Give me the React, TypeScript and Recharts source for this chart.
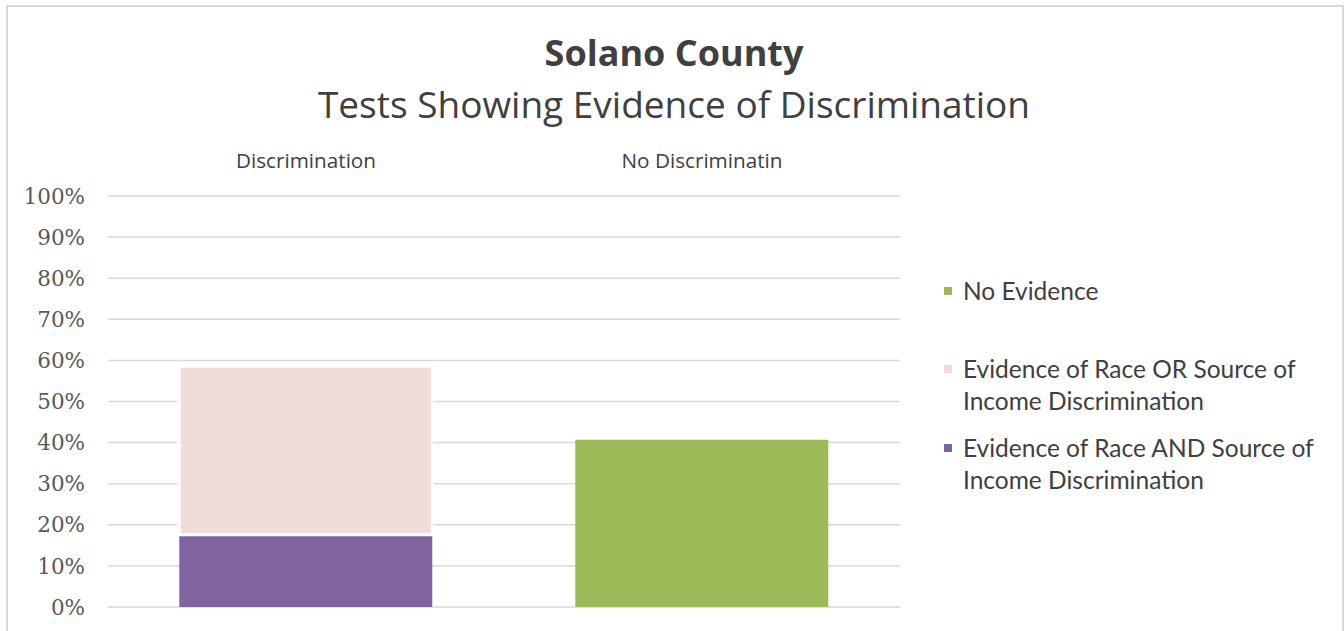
import React from "react";
import { BarChart, Bar, XAxis, YAxis, CartesianGrid, Legend } from "recharts";

const categories = ["Discrimination", "No Discriminatin"];
const raceAndSource = [17.6, 0];
const raceOrSource = [41.0, 0];
const noEvidence = [0, 40.7];
const yTicks = [0, 10, 20, 30, 40, 50, 60, 70, 80, 90, 100];

const seriesNames = {
  none: "No Evidence",
  or: "Evidence of Race OR Source of Income Discrimination",
  and: "Evidence of Race AND Source of Income Discrimination",
};
const colors = { none: "#9bbb59", or: "#f2dcdb", and: "#8064a2" };

const data = categories.map((c, i) => ({
  name: c,
  and: raceAndSource[i],
  or: raceOrSource[i],
  none: noEvidence[i],
}));

const legendOrder = ["none", "or", "and"] as const;
const legendGaps = [0, 46, 15];

function LegendContent() {
  return (
    <div style={{ fontFamily: "Lato, sans-serif", fontSize: 24.5, color: "#404040", lineHeight: "32px" }}>
      {legendOrder.map((k, i) => (
        <div key={k} style={{ display: "flex", alignItems: "flex-start", marginTop: legendGaps[i] }}>
          <div style={{ width: 8, height: 8, background: colors[k], marginTop: 12, marginRight: 11, flex: "none" }} />
          <div style={{ width: 375 }}>{seriesNames[k]}</div>
        </div>
      ))}
    </div>
  );
}

export default function App() {
  return (
    <div style={{ position: "absolute", left: 0, top: 0, width: 1344, height: 631, background: "#fff", overflow: "hidden" }}>
      <div style={{ position: "absolute", left: 6, top: 5, width: 1334, height: 700, borderTop: "2px solid #d9d9d9", borderLeft: "2px solid #d9d9d9", borderRight: "2px solid #d9d9d9" }} />
      <div style={{ position: "absolute", left: 0, width: 1348, top: 31, textAlign: "center", fontFamily: "'Open Sans', sans-serif", fontWeight: 700, fontSize: 36, color: "#404040", lineHeight: "44px" }}>
        Solano County
      </div>
      <div style={{ position: "absolute", left: 0, width: 1348, top: 80, textAlign: "center", fontFamily: "'Open Sans', sans-serif", fontSize: 37, color: "#404040", lineHeight: "48px" }}>
        Tests Showing Evidence of Discrimination
      </div>
      <div style={{ position: "absolute", left: 0, top: 0 }}>
        <BarChart width={1344} height={631} data={data} margin={{ top: 156, right: 444, bottom: 24, left: 8 }} barCategoryGap="18%">
          <CartesianGrid vertical={false} stroke="#d9d9d9" strokeWidth={1.5} />
          <XAxis dataKey="name" orientation="top" height={40} axisLine={false} tickLine={false} tickSize={0} tickMargin={28} interval={0}
            tick={{ fontFamily: "'Open Sans', sans-serif", fontSize: 20.7, fill: "#404040" }} />
          <YAxis domain={[0, 100]} ticks={yTicks} interval={0} width={100} axisLine={false} tickLine={false} tickSize={0} tickMargin={23}
            tickFormatter={(v) => `${v}%`} tick={{ fontFamily: "'DejaVu Serif', serif", fontSize: 21.5, fill: "#595959" }} />
          <Legend layout="vertical" align="center" verticalAlign="middle" wrapperStyle={{ left: 944, top: 275, width: 400 }} content={<LegendContent />} />
          <Bar dataKey="and" name={seriesNames.and} stackId="a" fill={colors.and} isAnimationActive={false} />
          <Bar dataKey="or" name={seriesNames.or} stackId="a" fill={colors.or} stroke="#fff" strokeWidth={3} isAnimationActive={false} />
          <Bar dataKey="none" name={seriesNames.none} stackId="a" fill={colors.none} isAnimationActive={false} />
        </BarChart>
      </div>
    </div>
  );
}
